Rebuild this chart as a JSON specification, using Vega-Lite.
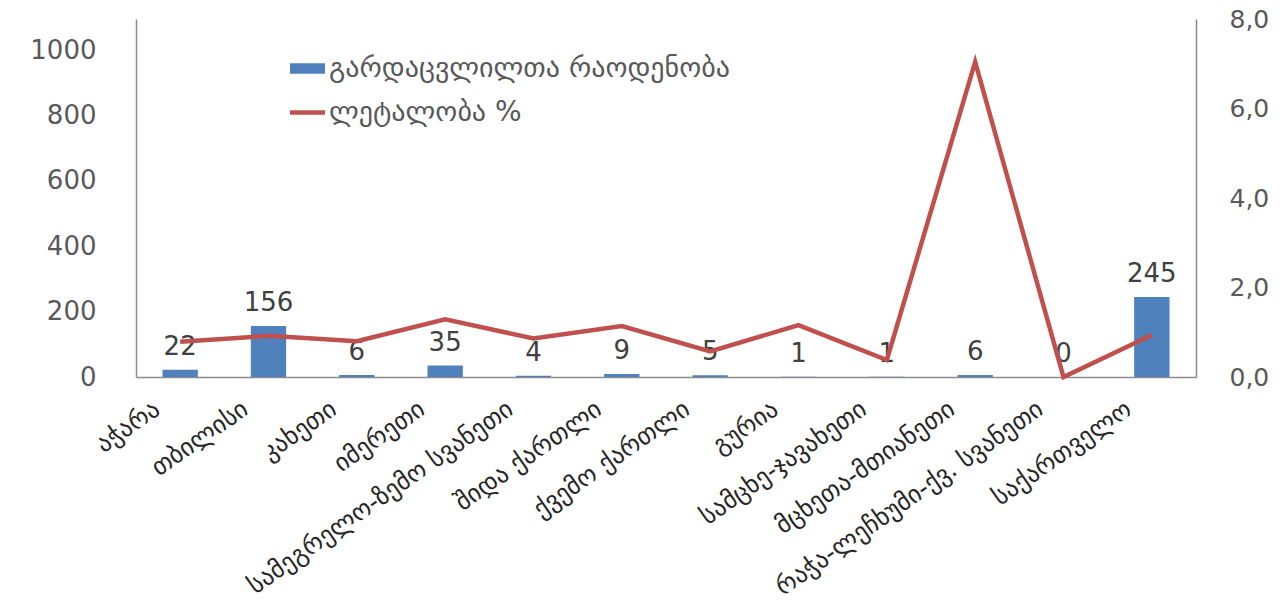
{
  "$schema": "https://vega.github.io/schema/vega-lite/v6.json",
  "width": 1060,
  "height": 358,
  "autosize": {"type": "none"},
  "padding": {"left": 136, "top": 19, "right": 92, "bottom": 224},
  "background": "white",
  "config": {
    "view": {"stroke": null},
    "font": "DejaVu Sans",
    "axis": {"labelFont": "DejaVu Sans", "labelColor": "#595959", "domainColor": "#8c8c8c", "domainWidth": 1.5, "ticks": false, "grid": false, "title": null}
  },
  "data": {
    "values": [
      {"region": "აჭარა", "deaths": 22, "lethality": 0.79},
      {"region": "თბილისი", "deaths": 156, "lethality": 0.92},
      {"region": "კახეთი", "deaths": 6, "lethality": 0.8},
      {"region": "იმერეთი", "deaths": 35, "lethality": 1.29},
      {"region": "სამეგრელო-ზემო სვანეთი", "deaths": 4, "lethality": 0.86},
      {"region": "შიდა ქართლი", "deaths": 9, "lethality": 1.14},
      {"region": "ქვემო ქართლი", "deaths": 5, "lethality": 0.57},
      {"region": "გურია", "deaths": 1, "lethality": 1.16},
      {"region": "სამცხე-ჯავახეთი", "deaths": 1, "lethality": 0.38},
      {"region": "მცხეთა-მთიანეთი", "deaths": 6, "lethality": 7.04},
      {"region": "რაჭა-ლეჩხუმი-ქვ. სვანეთი", "deaths": 0, "lethality": 0},
      {"region": "საქართველო", "deaths": 245, "lethality": 0.94}
    ]
  },
  "encoding": {
    "x": {
      "field": "region",
      "type": "nominal",
      "sort": null,
      "scale": {"paddingInner": 0, "paddingOuter": 0},
      "axis": {"labelAngle": -35, "labelFontSize": 25, "labelColor": "#262626", "labelPadding": 19, "labelOffset": -30, "labelAlign": "right", "labelBaseline": "top", "labelLimit": 500, "labelOverlap": false}
    }
  },
  "layer": [
    {
      "layer": [
        {
          "mark": {"type": "bar", "width": {"band": 0.4}},
          "encoding": {
            "y": {
              "field": "deaths",
              "type": "quantitative",
              "scale": {"domain": [0, 1095], "nice": false},
              "axis": {"values": [0, 200, 400, 600, 800, 1000], "format": "d", "labelFontSize": 26, "labelPadding": 40}
            },
            "color": {
              "datum": "გარდაცვლილთა რაოდენობა",
              "type": "nominal",
              "scale": {"domain": ["გარდაცვლილთა რაოდენობა", "ლეტალობა %"], "range": ["#4f81bd", "#c0504d"]},
              "legend": {
                "orient": "none",
                "legendX": 154,
                "legendY": 32,
                "title": null,
                "labelFontSize": 28,
                "labelColor": "#595959",
                "labelFont": "DejaVu Sans",
                "symbolSize": 1225,
                "rowPadding": 12,
                "labelOffset": 4,
                "labelLimit": 700,
                "symbolStrokeWidth": 0,
                "encode": {
                  "symbols": {
                    "update": {
                      "shape": {"signal": "datum.value === 'ლეტალობა %' ? 'M-1,-0.13H1V0.13H-1Z' : 'M-1,-0.3H1V0.3H-1Z'"},
                      "fill": {"signal": "datum.value === 'ლეტალობა %' ? '#c0504d' : '#4f81bd'"},
                      "strokeWidth": {"value": 0},
                      "opacity": {"value": 1}
                    }
                  }
                }
              }
            }
          }
        },
        {
          "mark": {"type": "text", "baseline": "bottom", "dy": -10, "fontSize": 26, "color": "#404040", "font": "DejaVu Sans"},
          "encoding": {
            "y": {"field": "deaths", "type": "quantitative"},
            "text": {"field": "deaths", "type": "quantitative"}
          }
        }
      ]
    },
    {
      "mark": {"type": "line", "strokeWidth": 4.5, "strokeJoin": "miter", "strokeMiterLimit": 20},
      "encoding": {
        "y": {
          "field": "lethality",
          "type": "quantitative",
          "scale": {"domain": [0, 8], "nice": false},
          "axis": {"orient": "right", "values": [0, 2, 4, 6, 8], "labelFontSize": 25, "labelPadding": 33, "labelExpr": "replace(format(datum.value, '.1f'), '.', ',')"}
        },
        "color": {"datum": "ლეტალობა %", "type": "nominal"}
      }
    }
  ],
  "resolve": {"scale": {"y": "independent"}}
}
